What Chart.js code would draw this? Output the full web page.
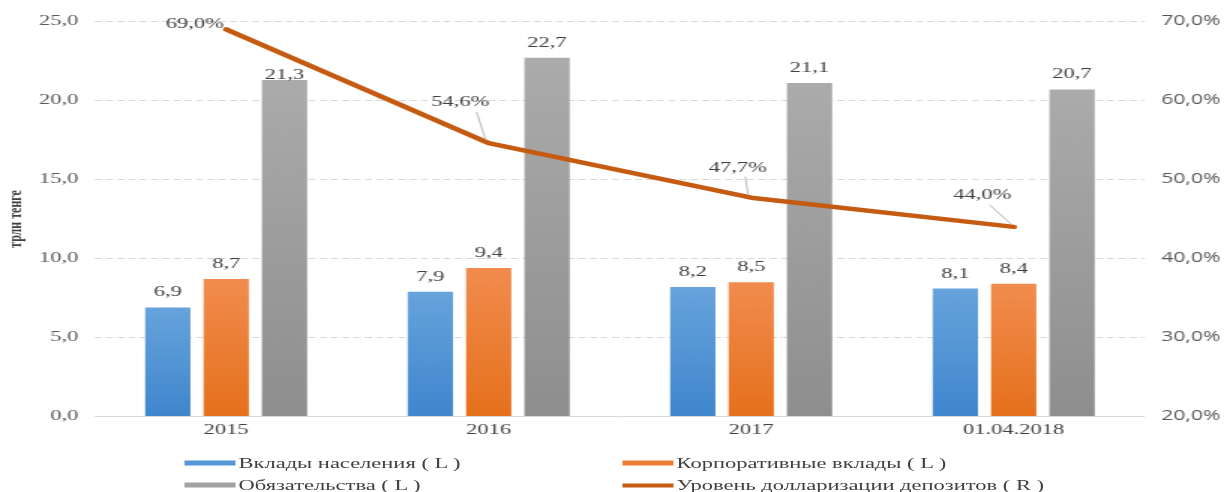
<!DOCTYPE html>
<html>
<head>
<meta charset="utf-8">
<script src="https://cdn.jsdelivr.net/npm/chart.js@4/dist/chart.umd.min.js"></script>
<style>
  html, body { margin: 0; padding: 0; background: #fff; overflow: hidden; }
  /* the source picture is stretched horizontally, so the whole chart is too */
  #wrap { position: relative; width: 818px; height: 492px; transform: scaleX(1.5); transform-origin: 0 0; }
  #wrap canvas { position: absolute; left: 0; top: 0; }
  #legend { position: absolute; left: 0; top: 0; width: 818px; height: 492px;
            font-family: "Liberation Serif", serif; font-size: 15px; color: #404040; pointer-events: none; }
  .item { position: absolute; display: flex; align-items: center; white-space: nowrap; transform: translateY(-50%); }
  .swatch { display: inline-block; width: 34px; margin-right: 2px; }
</style>
</head>
<body>
<div id="wrap">
  <canvas id="myChart" width="818" height="492"></canvas>
  <div id="legend"></div>
</div>
<script>
"use strict";

const categories = ["2015", "2016", "2017", "01.04.2018"];
const householdDeposits = [6.9, 7.9, 8.2, 8.1];
const corporateDeposits = [8.7, 9.4, 8.5, 8.4];
const liabilities = [21.3, 22.7, 21.1, 20.7];
const dollarization = [69.0, 54.6, 47.7, 44.0];

const seriesNames = [
  "Вклады населения ( L )",
  "Корпоративные вклады ( L )",
  "Обязательства ( L )",
  "Уровень долларизации депозитов ( R )",
];
const yTitle = "трлн тенге";

const lineColor = "#c55a11";
const gridColor = "#d9d9d9";
const textColor = "#404040";

// label offsets for the % labels: [dx, dy, leader start or null]
const lineLabelShift = [
  [-21, -5, null],
  [-19, -41, [11, 10]],
  [-9, -30, [5, 9]],
  [-21, -32, [5, 10]],
];
const legendSlots = [[123, 463], [415, 463], [123, 485], [415, 485]];

const fmt = (v) => v.toFixed(1).replace(".", ",");

const barFill = (top, bottom) => (ctx) => {
  const chart = ctx.chart;
  const y = chart.scales && chart.scales.y;
  if (!chart.chartArea || !y || ctx.raw == null) return bottom;
  const g = chart.ctx.createLinearGradient(0, y.getPixelForValue(ctx.raw), 0, chart.chartArea.bottom);
  g.addColorStop(0, top);
  g.addColorStop(1, bottom);
  return g;
};

// y of the line at a given x (straight segments)
const lineYAt = (pts, x) => {
  for (let k = 0; k < pts.length - 1; k++) {
    const a = pts[k], b = pts[k + 1];
    if (x >= a.x && x <= b.x) return a.y + (b.y - a.y) * (x - a.x) / (b.x - a.x);
  }
  return null;
};

const valueLabels = {
  id: "valueLabels",
  afterDatasetsDraw(chart) {
    const { ctx } = chart;
    const lineIdx = chart.data.datasets.findIndex((d) => d.type === "line");
    const linePts = chart.getDatasetMeta(lineIdx).data;
    ctx.save();
    ctx.font = '15px "Liberation Serif"';
    ctx.fillStyle = textColor;
    ctx.textAlign = "center";
    chart.data.datasets.forEach((ds, i) => {
      const meta = chart.getDatasetMeta(i);
      meta.data.forEach((el, j) => {
        const v = ds.data[j];
        if (ds.type === "line") {
          const [dx, dy, lead] = lineLabelShift[j];
          const tx = el.x + dx;
          const ty = el.y + dy;
          ctx.textBaseline = "middle";
          ctx.fillText(fmt(v) + "%", tx, ty);
          if (lead) {
            ctx.strokeStyle = "#a6a6a6";
            ctx.lineWidth = 0.8;
            ctx.beginPath();
            ctx.moveTo(tx + lead[0], ty + lead[1]);
            ctx.lineTo(el.x - 2, el.y - 3);
            ctx.stroke();
          }
        } else {
          let base = el.y - 11;
          const ly = lineYAt(linePts, el.x);
          // keep the label under the line when they would touch
          if (ly !== null && ly > base - 20 && ly < base + 4) base = el.y - 1;
          ctx.textBaseline = "alphabetic";
          ctx.fillText(fmt(v), el.x, base);
        }
      });
    });
    ctx.restore();
  },
};

const data = {
  labels: categories,
  datasets: [
    {
      type: "line",
      label: seriesNames[3],
      data: dollarization,
      yAxisID: "y1",
      borderColor: lineColor,
      backgroundColor: lineColor,
      borderWidth: 4.5,
      borderCapStyle: "round",
      borderJoinStyle: "round",
      pointRadius: 0,
      tension: 0,
      order: 0,
    },
    {
      label: seriesNames[0],
      data: householdDeposits,
      backgroundColor: barFill("#67a3dc", "#3f86cd"),
      order: 1,
    },
    {
      label: seriesNames[1],
      data: corporateDeposits,
      backgroundColor: barFill("#f18c4e", "#e5701c"),
      order: 1,
    },
    {
      label: seriesNames[2],
      data: liabilities,
      backgroundColor: barFill("#ababab", "#8e8e8e"),
      order: 1,
    },
  ],
};

const config = {
  type: "bar",
  data: data,
  options: {
    responsive: false,
    animation: false,
    layout: { padding: { top: 21.5, left: 0, right: 0, bottom: 0 } },
    datasets: {
      bar: { categoryPercentage: 0.667, barPercentage: 0.776 },
    },
    scales: {
      x: {
        grid: { display: false, drawTicks: false },
        border: { display: false },
        ticks: {
          padding: 5,
          color: textColor,
          font: { family: "Liberation Serif", size: 15 },
        },
        afterFit: (s) => { s.height = 75.5; },
      },
      y: {
        position: "left",
        min: 0,
        max: 25,
        grid: {
          color: gridColor,
          lineWidth: 1,
          drawTicks: false,
        },
        border: {
          display: false,
          dash: (ctx) => (ctx.tick && ctx.tick.value === 0 ? [] : [5, 2.5]),
        },
        ticks: {
          stepSize: 5,
          padding: 11,
          color: "#595959",
          font: { family: "Liberation Serif", size: 15 },
          callback: (v) => fmt(v),
        },
        title: {
          display: true,
          text: yTitle,
          color: textColor,
          font: { family: "Liberation Serif", size: 12, weight: "bold" },
        },
        afterFit: (s) => { s.width = 63.3; },
      },
      y1: {
        position: "right",
        min: 20,
        max: 70,
        grid: { display: false, drawTicks: false },
        border: { display: false },
        ticks: {
          stepSize: 10,
          padding: 11,
          color: "#595959",
          font: { family: "Open Sans", size: 14 },
          callback: (v) => fmt(v) + "%",
        },
        afterFit: (s) => { s.width = 54.7; },
      },
    },
    plugins: {
      legend: { display: false },
      tooltip: { enabled: false },
    },
  },
  plugins: [valueLabels],
};

const myChart = new Chart(document.getElementById("myChart"), config);

// legend in two columns, same order as the original
const legendEl = document.getElementById("legend");
const legendOrder = [1, 2, 3, 0];
legendOrder.forEach((dsIndex, slot) => {
  const ds = myChart.data.datasets[dsIndex];
  const item = document.createElement("div");
  item.className = "item";
  item.style.left = legendSlots[slot][0] + "px";
  item.style.top = legendSlots[slot][1] + "px";
  const sw = document.createElement("span");
  sw.className = "swatch";
  if (ds.type === "line") {
    sw.style.height = "4px";
    sw.style.background = lineColor;
  } else {
    const colors = { 1: "#5596d6", 2: "#ec7d33", 3: "#a2a2a2" };
    sw.style.height = "5px";
    sw.style.background = colors[dsIndex];
  }
  const label = document.createElement("span");
  label.textContent = ds.label;
  item.appendChild(sw);
  item.appendChild(label);
  legendEl.appendChild(item);
});
</script>
</body>
</html>
